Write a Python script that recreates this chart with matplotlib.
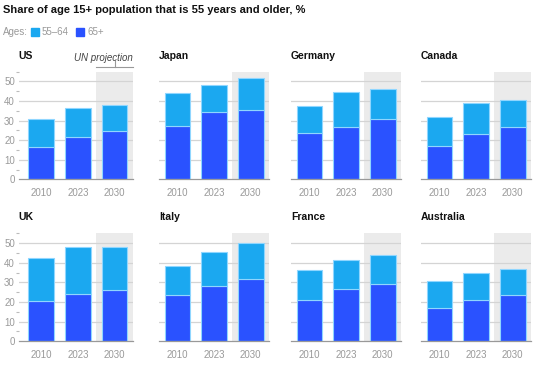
import matplotlib
matplotlib.use("Agg")
import matplotlib.pyplot as plt
import numpy as np

plt.rcParams['font.family'] = ['Liberation Sans', 'DejaVu Sans']

countries = ["US", "Japan", "Germany", "Canada", "UK", "Italy", "France", "Australia"]
years = ["2010", "2023", "2030"]
total_55plus = {
    "US": [30.8, 36.4, 38.2],
    "Japan": [43.9, 48.1, 51.8],
    "Germany": [37.6, 44.5, 46.4],
    "Canada": [31.6, 38.9, 40.3],
    "UK": [42.3, 47.8, 47.8],
    "Italy": [38.1, 45.4, 50.0],
    "France": [36.2, 41.6, 44.0],
    "Australia": [30.8, 35.0, 36.9],
}
age_65plus = {
    "US": [16.3, 21.4, 24.8],
    "Japan": [27.3, 34.2, 35.4],
    "Germany": [23.8, 26.5, 30.8],
    "Canada": [17.0, 23.1, 26.7],
    "UK": [20.4, 24.0, 26.2],
    "Italy": [23.8, 28.1, 31.9],
    "France": [21.1, 26.5, 29.1],
    "Australia": [16.8, 21.1, 23.5],
}

C_LIGHT = "#1ba8f0"
C_DARK = "#2a52ff"
C_EDGE = "#8fd6ff"
GRID = "#d4d4d4"
SHADE = "#ebebeb"
TICK = "#999999"

W, H = 542, 365
fig = plt.figure(figsize=(W / 100, H / 100), dpi=100)

def ax_at(x0, y0, x1, y1):
    return fig.add_axes([x0 / W, 1 - y1 / H, (x1 - x0) / W, (y1 - y0) / H])

col_x = [(19, 133), (159, 269), (291, 401), (421, 531)]
row_y = [(71.7, 179.3), (233.3, 341.3)]

fig.text(3 / W, 1 - 10 / H, "Share of age 15+ population that is 55 years and older, %",
         fontsize=8.0, fontweight="bold", va="center", ha="left", color="#111111")

# legend
ly = 1 - 32 / H
fig.text(3 / W, ly, "Ages:", fontsize=7, color=TICK, va="center")
fig.patches.append(matplotlib.patches.Rectangle((31 / W, 1 - 36 / H), 8 / W, 8 / H,
                   transform=fig.transFigure, color=C_LIGHT))
fig.text(42 / W, ly, "55–64", fontsize=7, color=TICK, va="center")
fig.patches.append(matplotlib.patches.Rectangle((76 / W, 1 - 36 / H), 8 / W, 8 / H,
                   transform=fig.transFigure, color=C_DARK))
fig.text(87 / W, ly, "65+", fontsize=7, color=TICK, va="center")

x = np.arange(len(years))
for i, c in enumerate(countries):
    r, col = divmod(i, 4)
    x0, x1 = col_x[col]
    y0, y1 = row_y[r]
    ax = ax_at(x0, y0, x1, y1)
    ax.set_xlim(-0.605 if col == 0 else -0.505, 2.5)
    ax.set_ylim(0, 55)
    ax.axvspan(1.5, 2.5, color=SHADE, zorder=0, lw=0)
    for yv in range(10, 60, 10):
        ax.axhline(yv, color=GRID, lw=0.9, zorder=1)
    tot = np.array(total_55plus[c])
    old = np.array(age_65plus[c])
    ax.bar(x, old, width=0.7, color=C_DARK, edgecolor=C_EDGE, linewidth=0.8, zorder=3)
    ax.bar(x, tot - old, bottom=old, width=0.7, color=C_LIGHT, edgecolor=C_EDGE,
           linewidth=0.8, zorder=3)
    for s in ["top", "right", "left"]:
        ax.spines[s].set_visible(False)
    ax.spines["bottom"].set_color("#999999")
    ax.spines["bottom"].set_linewidth(0.9)
    ax.spines["bottom"].set_zorder(4)
    ax.set_xticks(x)
    ax.set_xticklabels(years)
    ax.tick_params(axis="x", length=0, pad=6, labelsize=7, labelcolor=TICK)
    if col == 0:
        ax.set_yticks(range(0, 60, 10))
        ax.set_yticks(range(5, 60, 10), minor=True)
        ax.tick_params(axis="y", which="major", length=0, pad=3, labelsize=7, labelcolor=TICK)
        ax.tick_params(axis="y", which="minor", length=2.5, color="#bbbbbb", width=0.8)
    else:
        ax.set_yticks([])
    fig.text((x0 - 1 if col == 0 else x0) / W, 1 - (y0 - 16) / H, c, fontsize=7.5,
             fontweight="bold", color="#111111", va="center", ha="left")
    if c == "US":
        fig.text(132.7 / W, 1 - 58 / H, "UN projection", fontsize=7, style="italic",
                 color="#444444", va="center", ha="right")
        ax.plot([1.5, 2.5], [57.4, 57.4], color="#999999", lw=0.8, clip_on=False)
        ax.plot([2, 2], [57.4, 60.3], color="#999999", lw=0.8, clip_on=False)

fig.savefig("out.png", dpi=100)
